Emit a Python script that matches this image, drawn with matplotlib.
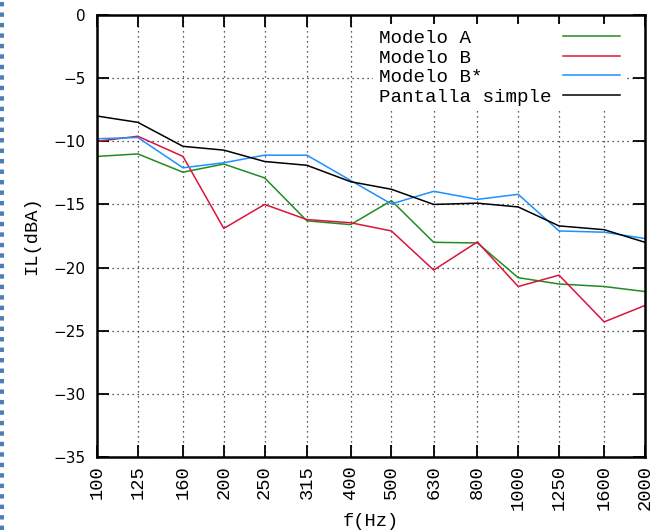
import matplotlib
matplotlib.use('Agg')
import matplotlib.pyplot as plt
from matplotlib.lines import Line2D

freqs = [100, 125, 160, 200, 250, 315, 400, 500, 630, 800, 1000, 1250, 1600, 2000]
freq_labels = [str(f) for f in freqs]

modelo_a = [-11.2, -11.0, -12.45, -11.8, -12.9, -16.3, -16.6, -14.7, -18.0, -18.05, -20.8, -21.3, -21.5, -21.9]
modelo_b = [-10.0, -9.6, -11.2, -16.9, -15.0, -16.2, -16.45, -17.1, -20.2, -17.97, -21.5, -20.6, -24.3, -23.0]
modelo_bs = [-9.8, -9.7, -12.1, -11.7, -11.1, -11.1, -13.1, -14.96, -13.96, -14.6, -14.2, -17.1, -17.2, -17.7]
pantalla = [-8.0, -8.5, -10.4, -10.7, -11.6, -11.9, -13.2, -13.8, -15.0, -14.9, -15.2, -16.7, -17.0, -18.0]

series_names = ['Modelo A', 'Modelo B', 'Modelo B*', 'Pantalla simple']
yticks = [0, -5, -10, -15, -20, -25, -30, -35]

mono = 'Liberation Mono'
width = max(len(n) for n in series_names)

fig = plt.figure(figsize=(6.58, 5.30), dpi=100)
ax = fig.add_axes([97 / 658, 1 - 457 / 530, 548 / 658, 442 / 530])

colors = ['#228B22', '#DC143C', '#1E90FF', 'black']
for vals, name, c in zip([modelo_a, modelo_b, modelo_bs, pantalla], series_names, colors):
    ax.plot(freqs, vals, color=c, lw=1.1, label=name.ljust(width))

ax.set_xscale('log')
ax.set_xlim(100, 2000)
ax.set_ylim(-35, 0)
ax.set_xticks(freqs)
ax.set_xticklabels(freq_labels, rotation=90, family=mono, fontsize=13.5)
ax.minorticks_off()
ax.set_yticks(yticks)
ax.set_yticklabels(['0' if v == 0 else '\u2212%d' % -v for v in yticks], fontsize=11)

ax.tick_params(direction='in', length=8.5, width=1.3, top=True, right=True)
ax.tick_params(axis='x', pad=6)
ax.tick_params(axis='y', pad=8)
for s in ax.spines.values():
    s.set_linewidth(1.8)

ax.grid(True, linestyle=(0, (1, 3)), color='#222222', lw=0.9)

ax.set_xlabel('f(Hz)', family=mono, fontsize=13.5, labelpad=2)
ax.set_ylabel('IL(dBA)', family=mono, fontsize=13.5, labelpad=10)

leg = ax.legend(loc='upper right', bbox_to_anchor=(0.965, 0.98), markerfirst=False,
                prop={'family': mono, 'size': 13.8}, handlelength=3.0,
                handletextpad=0.6, labelspacing=0.11, borderpad=0.3,
                frameon=True, fancybox=False, framealpha=1, borderaxespad=0)
leg.get_frame().set_edgecolor('none')
leg.get_frame().set_facecolor('white')

# dotted border at the left edge of the image
fig.add_artist(Line2D([2 / 658, 2 / 658], [0, 1], transform=fig.transFigure,
                      color='#4f7db5', lw=2.9, linestyle=(0, (1.1, 1.5))))

fig.savefig('out.png', dpi=100)
